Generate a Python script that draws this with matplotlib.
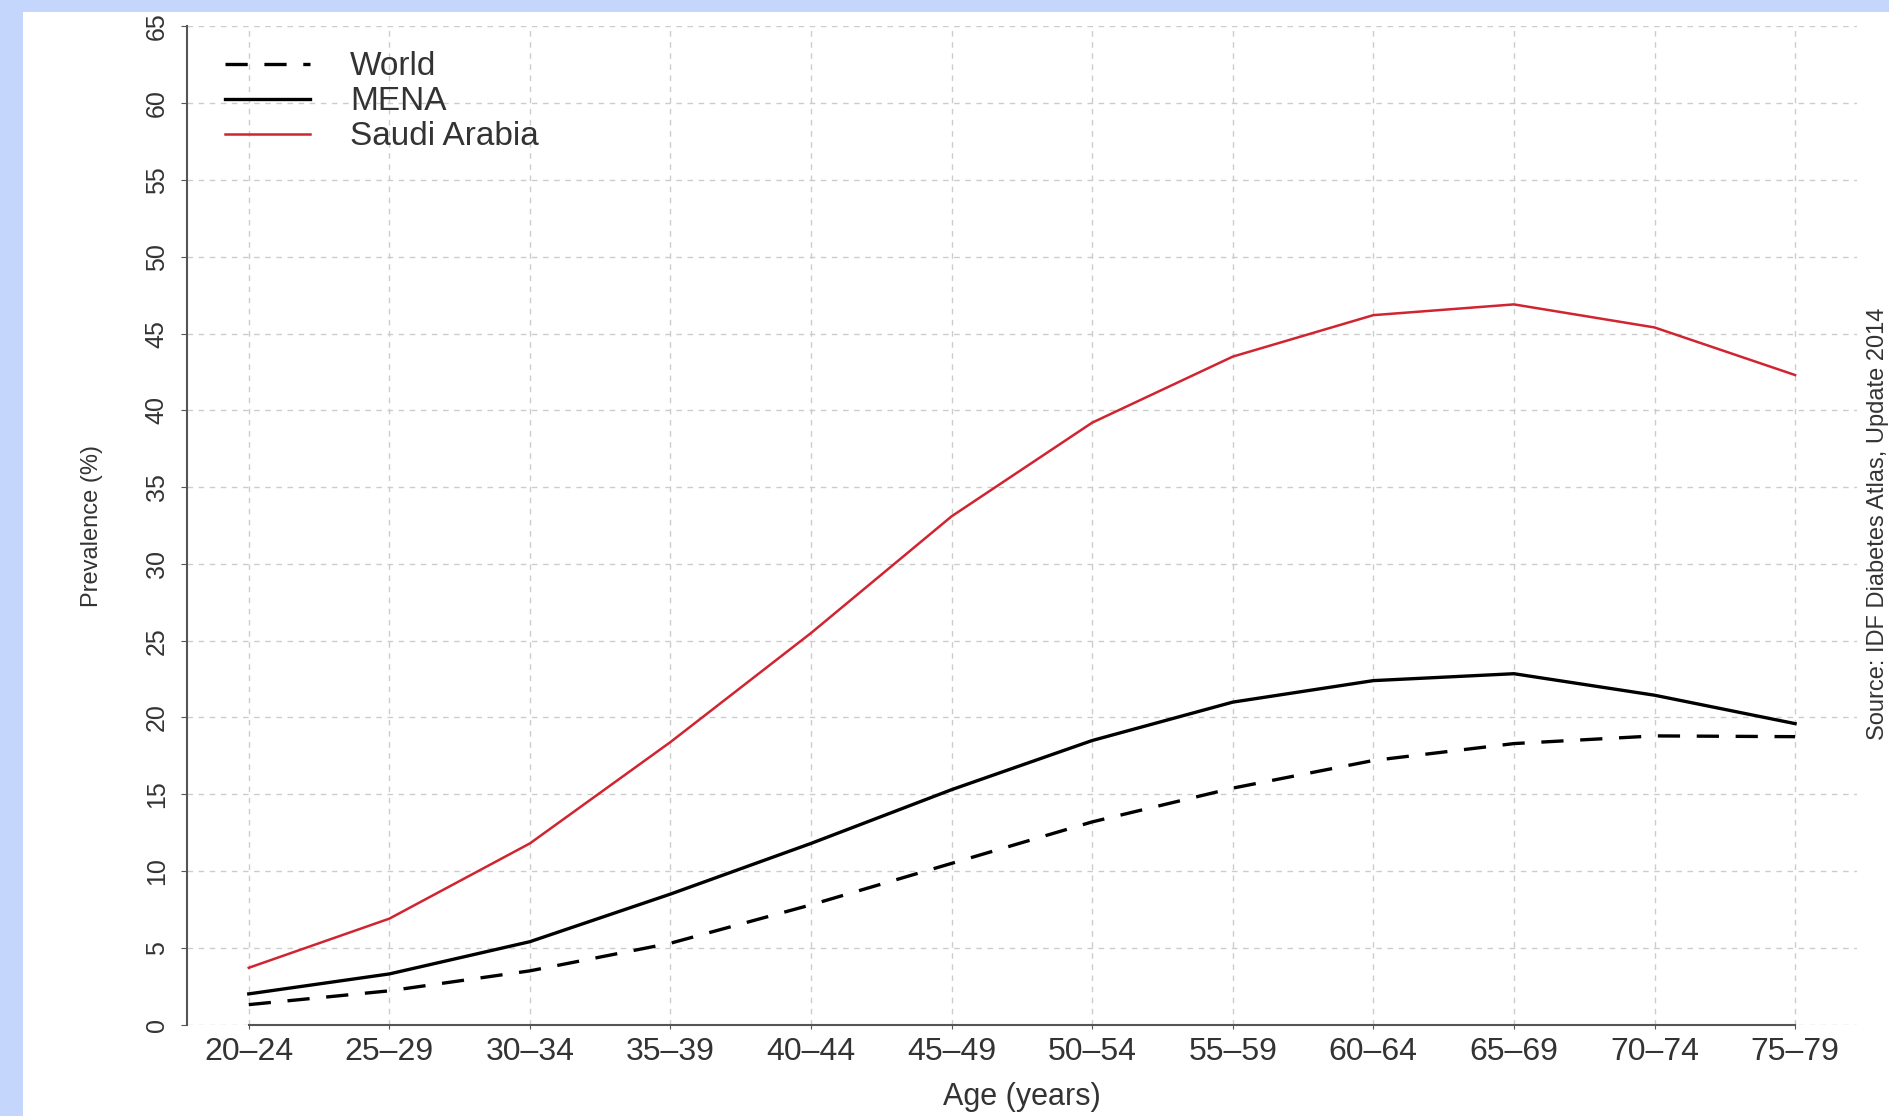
import matplotlib
matplotlib.use('Agg')
import matplotlib.pyplot as plt
from matplotlib.patches import Rectangle

plt.rcParams['font.family'] = ['Liberation Sans', 'DejaVu Sans']
plt.rcParams['lines.scale_dashes'] = False

# age groups and prevalence (%)
age_groups = ['20\u201324', '25\u201329', '30\u201334', '35\u201339', '40\u201344', '45\u201349',
              '50\u201354', '55\u201359', '60\u201364', '65\u201369', '70\u201374', '75\u201379']
world = [1.3, 2.2, 3.5, 5.3, 7.8, 10.5, 13.2, 15.4, 17.2, 18.3, 18.8, 18.75]
mena = [2.0, 3.3, 5.4, 8.5, 11.8, 15.3, 18.5, 21.0, 22.4, 22.85, 21.45, 19.6]
saudi = [3.7, 6.9, 11.8, 18.4, 25.5, 33.1, 39.2, 43.5, 46.2, 46.9, 45.4, 42.3]
y_ticks = list(range(0, 70, 5))

x = list(range(1, len(age_groups) + 1))

fig = plt.figure(figsize=(18.9, 11.16), dpi=100, facecolor='#c4d6fc')
# white panel inside the blue frame
fig.add_artist(Rectangle((23 / 1890, 0), 1, 1 - 12 / 1116, transform=fig.transFigure,
                         facecolor='white', edgecolor='none', zorder=0))

ax = fig.add_axes([0.0989, 0.0819, 0.8836, 0.8944])
ax.set_facecolor('none')

ax.plot(x, world, color='black', lw=2.4, dashes=(16, 12), label='World')
ax.plot(x, mena, color='black', lw=2.4, label='MENA')
ax.plot(x, saudi, color='#d02530', lw=1.8, label='Saudi Arabia')

ax.set_xlim(0.56, 12.44)
ax.set_ylim(0, 65)
ax.set_xticks(x)
ax.set_xticklabels(age_groups)
ax.set_yticks(y_ticks)
ax.set_yticklabels([str(v) for v in y_ticks], rotation=90, va='center')

ax.grid(True, color='#cccccc', lw=1.0, ls=(0, (4, 4)))
ax.set_axisbelow(True)

for s in ['top', 'right']:
    ax.spines[s].set_visible(False)
ax.spines['bottom'].set_bounds(1, 12)
ax.spines['left'].set_bounds(0, 65)
for s in ['bottom', 'left']:
    ax.spines[s].set_color('#555555')
    ax.spines[s].set_linewidth(1.5)

ax.tick_params(axis='x', labelsize=23, colors='#555555', labelcolor='#333333', length=3, pad=6)
ax.tick_params(axis='y', labelsize=18, colors='#555555', labelcolor='#333333', length=4, pad=9)

ax.set_xlabel('Age (years)', fontsize=22, color='#333333', labelpad=11)
ax.set_ylabel('Prevalence (%)', fontsize=17, color='#333333', labelpad=30)

leg = ax.legend(loc='upper left', bbox_to_anchor=(0.011, 0.995), frameon=False, fontsize=24,
                handlelength=2.55, handletextpad=1.2, labelspacing=0.12, borderaxespad=0.2)
for t in leg.get_texts():
    t.set_color('#333333')

fig.text(1889 / 1890, 1 - 524 / 1116, 'Source: IDF Diabetes Atlas, Update 2014', rotation=90,
         ha='right', va='center', fontsize=17, color='#333333')

fig.savefig('out.png', dpi=100, facecolor=fig.get_facecolor())
